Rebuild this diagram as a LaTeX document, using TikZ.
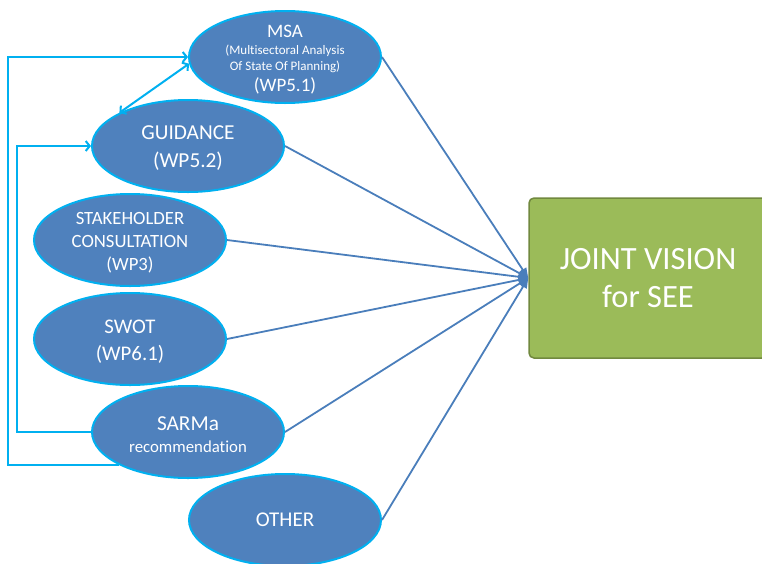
\documentclass[tikz,border=0pt]{standalone}
\usepackage{fontspec}
\setmainfont[Ligatures={NoCommon}]{Carlito}
\usetikzlibrary{shapes.geometric,arrows.meta}
\definecolor{blobfill}{HTML}{4F81BD}
\definecolor{blobline}{HTML}{00B0F0}
\definecolor{feedline}{HTML}{4A7EBB}
\definecolor{goalfill}{HTML}{9BBB59}
\definecolor{goalline}{HTML}{71893F}
\newcommand{\fs}[2]{\fontsize{#1}{#2}\selectfont}

\begin{document}
\begin{tikzpicture}[x=1pt,y=-1pt,
   blob/.style={ellipse,fill=blobfill,draw=blobline,line width=2pt,
     minimum width=192pt,minimum height=92pt,inner sep=0pt},
   txt/.style={text=white,align=center,inner sep=0pt,yshift=-2.5pt},
   goal/.style={rectangle,rounded corners=5pt,fill=goalfill,draw=goalline,
     line width=1.5pt,minimum width=238pt,minimum height=160pt,
     text=white,align=center,font=\fs{32.5}{38}},
   feed/.style={draw=feedline,line width=1.8pt,-{Triangle[length=10pt,width=8pt]}},
   barb/.tip={Straight Barb[length=4pt,width=10pt]},
   back/.style={draw=blobline,line width=2pt,-barb}]
   \useasboundingbox (0,0) rectangle (762,563);
   \node[goal] (goal) at (648,278) {JOINT VISION\\for SEE};
   \node[blob,label={[txt,font=\fs{13}{15.5}]center:{{\fs{19}{19}MSA}\\[1.5pt](Multisectoral Analysis\\Of State Of Planning)\\[4pt]{\fs{19}{19}(WP5.1)}}}] (msa) at (285,57) {};
   \node[blob,label={[txt,font=\fs{21.3}{28}]center:{GUIDANCE\\(WP5.2)}}] (guid) at (188,146) {};
   \node[blob,label={[txt,font=\fs{18.7}{23}]center:{STAKEHOLDER\\CONSULTATION\\(WP3)}}] (stake) at (130,240) {};
   \node[blob,label={[txt,font=\fs{20.8}{27}]center:{SWOT\\(WP6.1)}}] (swot) at (130,339) {};
   \node[blob,label={[txt,font=\fs{16.8}{22}]center:{{\fs{21.3}{21}SARMa}\\recommendation}}] (sarma) at (188,432) {};
   \node[blob,label={[txt,yshift=2.5pt,font=\fs{21}{24}]center:{OTHER}}] (other) at (285,520) {};
   \foreach \n in {msa,guid,stake,swot,sarma,other} {
    \draw[feed] (\n.east) -- (goal.west);
   }
   \coordinate (outer) at (8,0);
   \coordinate (inner) at (17,0);
   \draw[back] (sarma.south west) -| (outer |- msa.west) -- (msa.west);
   \draw[back] (sarma.west) -| (inner |- guid.west) -- (guid.west);
   \draw[back,barb-barb] (guid.north west) -- (msa.184);
\end{tikzpicture}
\end{document}
